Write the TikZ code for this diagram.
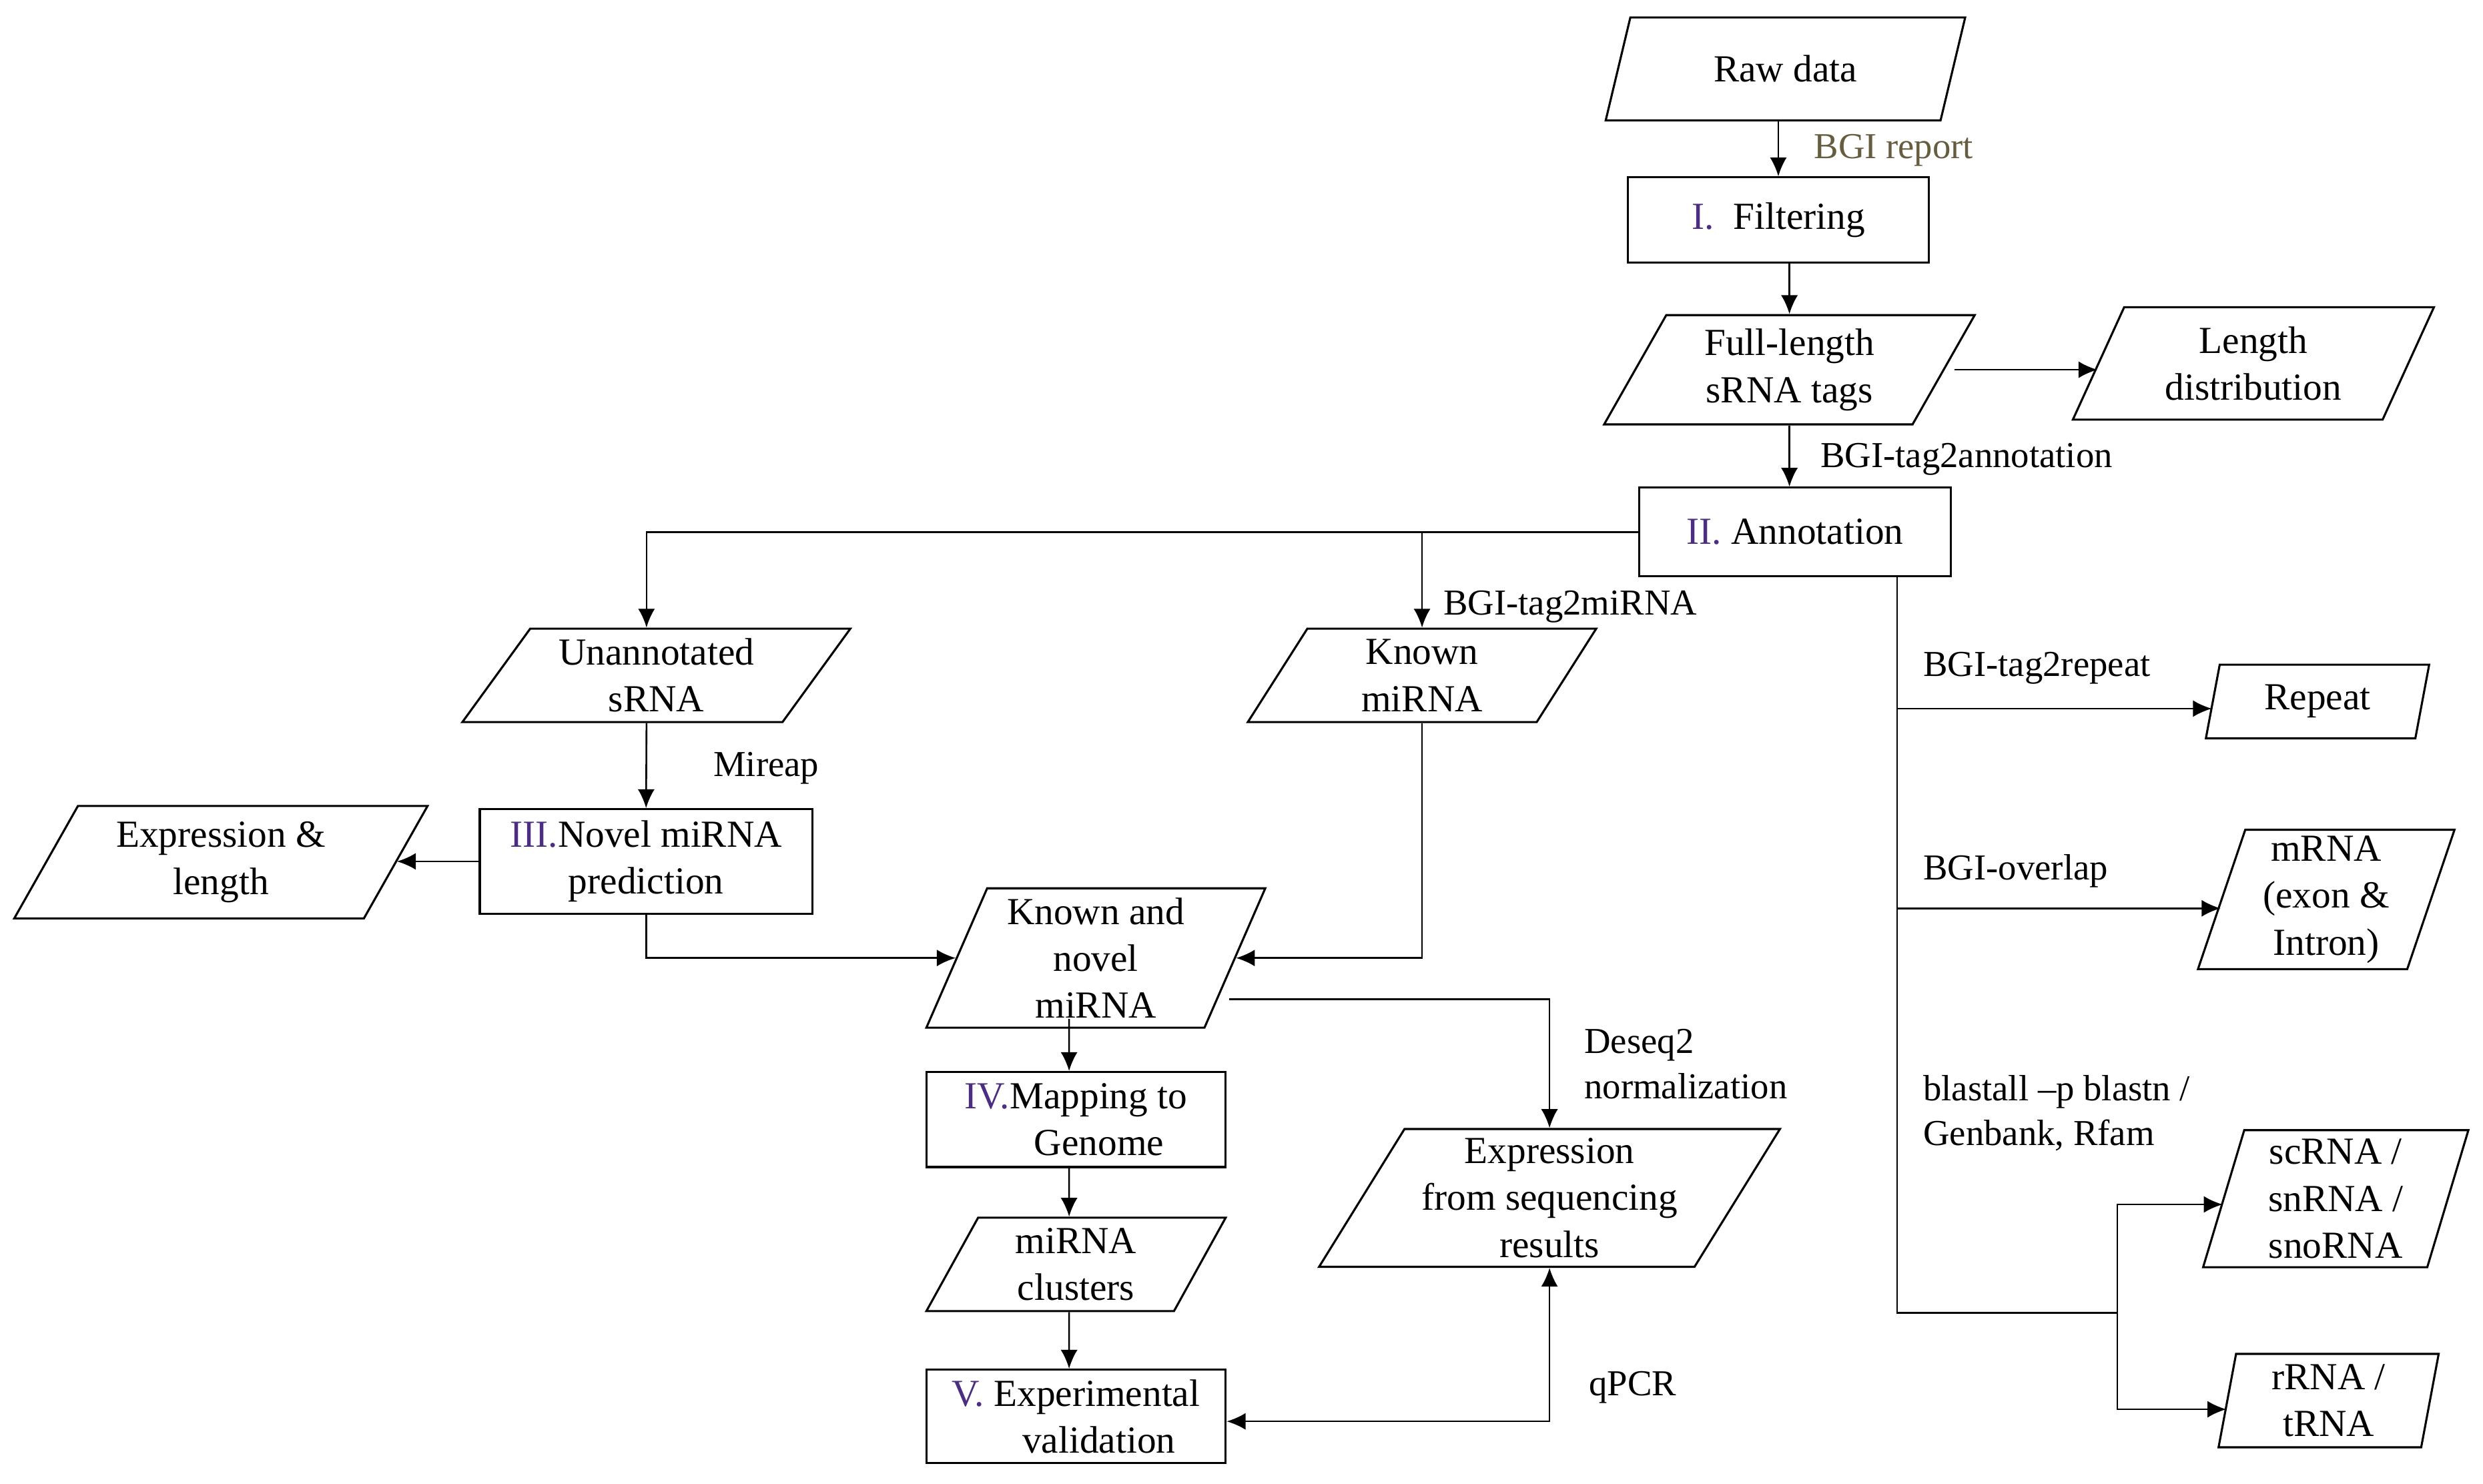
\documentclass[tikz,border=0pt]{standalone}
\usepackage{fontspec}
\setmainfont{Liberation Serif}
\usetikzlibrary{shapes.geometric,arrows.meta}

\definecolor{romanpurple}{RGB}{75,45,130}
\definecolor{reportolive}{RGB}{102,92,64}
\newcommand{\rn}[1]{\textcolor{romanpurple}{#1}}
\newcommand{\nodefont}{\fontsize{11}{13.5}\selectfont}
\newcommand{\labelfont}{\fontsize{10.5}{13}\selectfont}

\begin{document}
\begin{tikzpicture}[x=0.16mm, y=-0.16mm, line width=0.5pt,
    base/.style={draw, line width=0.6pt, font=\nodefont, align=center, inner xsep=2pt, inner ysep=1pt},
    stepbox/.style={base, rectangle},
    io/.style={base, trapezium, trapezium left angle=#1, trapezium right angle=180-#1, trapezium stretches body},
    arr/.style={-{Latex[length=1.9mm,width=1.7mm]}},
    dblarr/.style={{Latex[length=1.9mm,width=1.7mm]}-{Latex[length=1.9mm,width=1.7mm]}},
    lbl/.style={font=\labelfont, anchor=west, align=left, inner sep=0pt}]
    \useasboundingbox (0,0) rectangle (1568,937);

    % Main column
    \node[io=54, minimum width=36.32mm, minimum height=10.4mm] (raw) at (1127.5,43.5) {Raw data};
    \node[stepbox, minimum width=30.4mm, minimum height=8.64mm] (filter) at (1123,139) {\rn{I.}\ \ Filtering};
    \node[io=55, minimum width=37.44mm, minimum height=11.04mm] (full) at (1130,233.5) {Full-length\\sRNA tags};
    \node[io=57.6, minimum width=36.48mm, minimum height=11.36mm] (lendist) at (1423,229.5) {Length\\distribution};
    \node[stepbox, minimum width=31.52mm, minimum height=8.96mm] (annot) at (1133.5,336) {\rn{II.} Annotation};

    % miRNA branch
    \node[io=50, minimum width=39.2mm, minimum height=9.44mm] (unann) at (414.5,426.5) {Unannotated\\sRNA};
    \node[io=53, minimum width=35.2mm, minimum height=9.44mm] (known) at (898,426.5) {Known\\miRNA};
    \node[stepbox, minimum width=33.6mm, minimum height=10.56mm] (nov) at (408,544) {\rn{III.}Novel miRNA\\prediction};
    \node[io=54, minimum width=41.76mm, minimum height=11.36mm] (exprlen) at (139.5,544.5) {Expression \&\\length};
    \node[io=64.5, minimum width=34.24mm, minimum height=14.08mm] (kn) at (692,605) {Known and\\novel\\miRNA};
    \node[stepbox, minimum width=30.24mm, minimum height=9.6mm] (map) at (679.5,707) {\rn{IV.}Mapping to\\\hspace*{1.2em}Genome};
    \node[io=57, minimum width=30.24mm, minimum height=9.44mm] (clus) at (679.5,798.5) {miRNA\\clusters};
    \node[stepbox, minimum width=30.24mm, minimum height=9.44mm] (valid) at (679.5,894.5) {\rn{V.} Experimental\\\hspace*{1.2em}validation};
    \node[io=56, minimum width=46.56mm, minimum height=13.92mm] (exprseq) at (978.5,756.5) {Expression\\from sequencing\\results};

    % Other sRNA classes
    \node[io=71, minimum width=22.56mm, minimum height=7.44mm] (rep) at (1463.5,443) {Repeat};
    \node[io=70.6, minimum width=25.92mm, minimum height=14.08mm] (mrna) at (1469,568) {mRNA\\(exon \&\\Intron)};
    \node[io=72, minimum width=26.8mm, minimum height=13.84mm] (scrna) at (1475,757) {scRNA /\\snRNA /\\snoRNA};
    \node[io=77.6, minimum width=22.24mm, minimum height=9.44mm] (rrna) at (1470.5,884.5) {rRNA /\\tRNA};

    % Tool labels
    \node[lbl] (lblreport) at (1145,95) {\textcolor{reportolive}{BGI report}};
    \node[lbl] (lblannot) at (1149,290) {BGI-tag2annotation};
    \node[lbl] (lblmirna) at (911,383) {BGI-tag2miRNA};
    \node[lbl] (lblmireap) at (450,485) {Mireap};
    \node[lbl] (lbldeseq) at (1000,672) {Deseq2\\normalization};
    \node[lbl] (lblqpcr) at (1003,876) {qPCR};
    \node[lbl] (lblrepeat) at (1214,422) {BGI-tag2repeat};
    \node[lbl] (lbloverlap) at (1214,550) {BGI-overlap};
    \node[lbl] (lblblast) at (1214,703) {blastall –p blastn /\\Genbank, Rfam};

    \coordinate (tbot) at (1198,829);
    \coordinate (fork) at (1337,829);

    % Links
    \draw[arr] (raw.south -| filter.north) -- (filter.north);
    \draw[arr] (filter.south -| full.north) -- (full.north);
    \draw[arr] ([xshift=1mm]full.east) -- (full.east -| lendist.west);
    \draw[arr] (full.south) -- (full.south |- annot.north);
    \draw[arr] (annot.west) -| ([xshift=-1mm]unann.north);
    \draw[arr] (annot.west -| known.north) -- (known.north);
    \draw[arr] ([xshift=-1mm]unann.south) -- (nov.north);
    \draw[arr] (nov.west) -- (nov.west -| exprlen.east);
    \draw[arr] (nov.south) |- (kn.west);
    \draw[arr] (known.south) |- (kn.east);
    \draw[arr] ([xshift=-0.7mm,yshift=-4.16mm]kn.east) -| (exprseq.north);
    \draw[arr] ([xshift=-2.7mm,yshift=1mm]kn.south) -- ([xshift=-0.7mm]map.north);
    \draw[arr] ([xshift=-0.7mm]map.south) -- ([xshift=-0.7mm]clus.north);
    \draw[arr] ([xshift=-0.7mm]clus.south) -- ([xshift=-0.7mm]valid.north);
    \draw[dblarr] ([yshift=-0.5mm]valid.east) -| (exprseq.south);

    \draw (annot.south -| tbot) -- (tbot) -- (fork);
    \draw[arr] (tbot) |- ([yshift=-0.72mm]rep.west);
    \draw[arr] (tbot) |- ([yshift=-0.9mm]mrna.west);
    \draw[arr] (fork) |- ([yshift=-0.58mm]scrna.west);
    \draw[arr] (fork) |- ([yshift=-0.88mm]rrna.west);
\end{tikzpicture}
\end{document}
